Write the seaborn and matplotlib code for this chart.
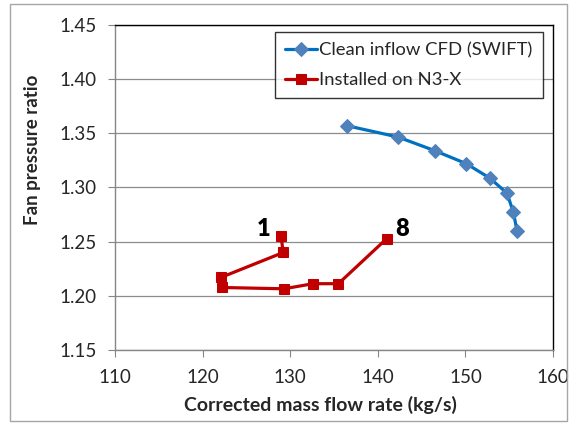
import matplotlib
matplotlib.use("Agg")
import matplotlib.pyplot as plt
from matplotlib.patches import Rectangle
import seaborn as sns
import pandas as pd

# Clean inflow CFD (SWIFT) speedline
clean_flow = [136.5, 142.3, 146.5, 150.1, 152.8, 154.75, 155.45, 155.9]
clean_fpr = [1.357, 1.3466, 1.334, 1.322, 1.3086, 1.2947, 1.2778, 1.260]

# Installed on N3-X, operating points 1..8
inst_flow = [128.95, 129.2, 122.1, 122.2, 129.3, 132.6, 135.5, 141.0]
inst_fpr = [1.2555, 1.240, 1.217, 1.2077, 1.2065, 1.2112, 1.2112, 1.2527]

x_ticks = [110, 120, 130, 140, 150, 160]
y_ticks = [1.15, 1.20, 1.25, 1.30, 1.35, 1.40, 1.45]

sns.set_theme(style="white")
plt.rcParams["font.family"] = ["Lato", "DejaVu Sans"]

fig = plt.figure(figsize=(5.69, 4.24), dpi=100)
ax = fig.add_axes([115 / 569, 1 - 350 / 424, (553 - 115) / 569, (350 - 25) / 424])

# outer chart border
fig.patches.append(Rectangle((10 / 569, 1 - 421 / 424), (567 - 10) / 569, (421 - 4) / 424,
                             transform=fig.transFigure, fill=False,
                             edgecolor="#a6a6a6", linewidth=1.0))

clean_df = pd.DataFrame({"flow": clean_flow, "fpr": clean_fpr})
inst_df = pd.DataFrame({"flow": inst_flow, "fpr": inst_fpr})

sns.lineplot(data=clean_df, x="flow", y="fpr", sort=False, ax=ax,
             color="#0070C0", linewidth=2.3, marker="D", markersize=7,
             markerfacecolor="#4F81BD", markeredgecolor="#4F81BD",
             label="Clean inflow CFD (SWIFT)", zorder=3)
sns.lineplot(data=inst_df, x="flow", y="fpr", sort=False, ax=ax,
             color="#C00000", linewidth=2.3, marker="s", markersize=6.5,
             markerfacecolor="#C00000", markeredgecolor="#C00000",
             label="Installed on N3-X", zorder=3)

# operating point labels
ax.annotate("1", (inst_flow[0], inst_fpr[0]), xytext=(-17, 7), textcoords="offset pixels",
            ha="center", va="center", fontsize=17, fontweight="heavy", color="black")
ax.annotate("8", (inst_flow[-1], inst_fpr[-1]), xytext=(16, 10), textcoords="offset pixels",
            ha="center", va="center", fontsize=17, fontweight="heavy", color="black")

ax.set_xlim(110, 160)
ax.set_ylim(1.15, 1.45)
ax.set_xticks(x_ticks)
ax.set_xticklabels([str(v) for v in x_ticks])
ax.set_yticks(y_ticks)
ax.set_yticklabels([f"{v:.2f}" for v in y_ticks])
ax.tick_params(axis="both", labelsize=13.5, length=5, width=0.8, color="#868686",
               direction="out", bottom=True, left=True)
ax.tick_params(axis="y", pad=8)
ax.tick_params(axis="x", pad=9)
ax.grid(axis="y", color="#8c8c8c", linewidth=0.9)
ax.grid(axis="x", visible=False)

for side in ["top", "right"]:
    ax.spines[side].set_color("black")
    ax.spines[side].set_linewidth(1.0)
for side in ["left", "bottom"]:
    ax.spines[side].set_color("#868686")
    ax.spines[side].set_linewidth(1.0)

ax.set_xlabel("Corrected mass flow rate (kg/s)", fontsize=14, fontweight="bold")
ax.set_ylabel("Fan pressure ratio", fontsize=13.5, fontweight="bold")
ax.xaxis.set_label_coords((320 - 115) / 438, (350 - 405) / 325)
ax.yaxis.set_label_coords((32 - 115) / 438, (350 - 150) / 325)
ax.xaxis.label.set_va("center")
ax.yaxis.label.set_va("center")

leg = ax.legend(loc="upper right", bbox_to_anchor=((543 - 115) / 438, (350 - 32) / 325),
                fontsize=13.3, frameon=True, fancybox=False, shadow=False,
                handlelength=1.7, handletextpad=0.15, borderpad=0.55, labelspacing=0.75,
                borderaxespad=0)
leg.get_frame().set_edgecolor("black")
leg.get_frame().set_linewidth(1.0)

fig.savefig("out.png", dpi=100)
